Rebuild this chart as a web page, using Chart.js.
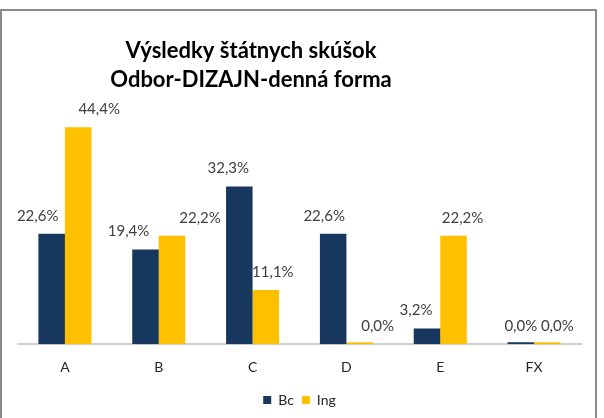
<!DOCTYPE html>
<html>
<head>
<meta charset="utf-8">
<script src="https://cdn.jsdelivr.net/npm/chart.js@4/dist/chart.umd.min.js"></script>
<style>
  body { margin: 0; background: #fff; }
</style>
</head>
<body>
<canvas id="myChart" width="604" height="418"></canvas>
<script>
let categories = ['A', 'B', 'C', 'D', 'E', 'FX'];
let bcValues = [22.6, 19.4, 32.3, 22.6, 3.2, 0.0];
let ingValues = [44.4, 22.2, 11.1, 0.0, 22.2, 0.0];
let seriesNames = ['Bc', 'Ing'];
let titleLines = ['Výsledky štátnych skúšok', 'Odbor-DIZAJN-denná forma'];

// labels in the original were nudged sideways by hand
let labelNudge = [
  [-14, -17, -11, -9, -11, 0],
  [21, 28, 7, 18, 9, 10]
];

let fontName = 'Lato, "Open Sans", sans-serif';

let framePlugin = {
  id: 'frame',
  beforeDraw: (chart) => {
    let c = chart.ctx;
    c.save();
    c.fillStyle = '#fff';
    c.fillRect(0, 0, chart.width, chart.height);
    c.strokeStyle = '#8a8a8a';
    c.lineWidth = 2;
    c.strokeRect(1, 10, 595, 500);
    c.restore();
  },
  afterDraw: (chart) => {
    let c = chart.ctx;
    c.save();
    c.fillStyle = '#000';
    c.font = 'bold 22px ' + fontName;
    c.textAlign = 'center';
    c.textBaseline = 'alphabetic';
    c.fillText(titleLines[0], 251, 58);
    c.fillText(titleLines[1], 251, 87);
    c.restore();
  }
};

let valueLabels = {
  id: 'valueLabels',
  afterDatasetsDraw: (chart) => {
    let c = chart.ctx;
    c.save();
    c.fillStyle = '#404040';
    c.font = '15px ' + fontName;
    c.textAlign = 'center';
    c.textBaseline = 'middle';
    chart.data.datasets.forEach((ds, i) => {
      chart.getDatasetMeta(i).data.forEach((bar, j) => {
        let txt = ds.data[j].toFixed(1).replace('.', ',') + '%';
        let top = chart.scales.y.getPixelForValue(ds.data[j]);
        c.fillText(txt, bar.x + labelNudge[i][j], top - 18);
      });
    });
    c.restore();
  }
};

let ctx = document.getElementById('myChart').getContext('2d');

let myChart = new Chart(ctx, {
  type: 'bar',
  data: {
    labels: categories,
    datasets: [{
      label: seriesNames[0],
      data: bcValues,
      backgroundColor: '#17375e',
      minBarLength: 2
    }, {
      label: seriesNames[1],
      data: ingValues,
      backgroundColor: '#ffc000',
      minBarLength: 2
    }]
  },
  options: {
    responsive: false,
    animation: false,
    categoryPercentage: 0.565,
    barPercentage: 1,
    layout: {
      padding: { left: 18, right: 23, top: 100, bottom: 1 }
    },
    scales: {
      x: {
        grid: { display: false, drawTicks: false },
        border: { color: '#d0d0d0', width: 2 },
        ticks: {
          padding: 15,
          color: '#262626',
          font: { family: fontName, size: 14 }
        },
        afterFit: (scale) => {
          scale.height -= 6;
        }
      },
      y: {
        display: false,
        min: 0,
        max: 50
      }
    },
    plugins: {
      legend: {
        position: 'bottom',
        labels: {
          boxWidth: 8,
          boxHeight: 8,
          padding: 8,
          color: '#262626',
          font: { family: fontName, size: 14 }
        }
      },
      title: { display: false },
      tooltip: { enabled: false }
    }
  },
  plugins: [framePlugin, valueLabels]
});
</script>
</body>
</html>
